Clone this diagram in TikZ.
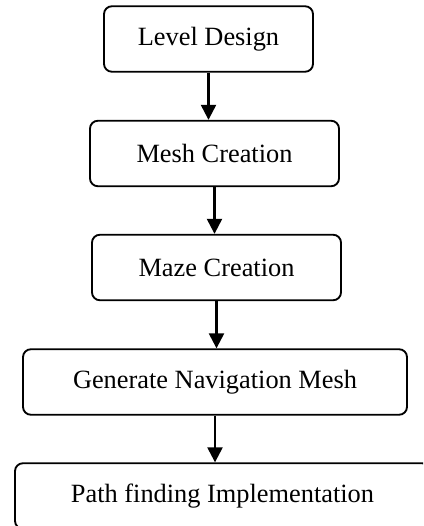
\documentclass[tikz,border=0pt]{standalone}
\usepackage{fontspec}
\setmainfont{Liberation Serif}
\usepackage{tikz}
\usetikzlibrary{positioning,arrows.meta,calc}

\begin{document}
\begin{tikzpicture}[
    font=\fontsize{15}{18}\selectfont,
    box/.style={draw,line width=1.05pt,rounded corners=4.5pt,align=center,minimum height=1.31cm,inner sep=0pt},
    arr/.style={-{Triangle[width=0.3cm,length=0.3cm]},line width=1.35pt}
  ]
    \useasboundingbox (0,0) rectangle (8.46,-10.52);
    \clip (0,0) rectangle (8.46,-10.52);

    \node[box,minimum width=4.18cm] (level) at (4.17,-0.78) {Level Design};
    \node[box,minimum width=4.98cm] (mesh) at (4.29,-3.07) {Mesh Creation};
    \node[box,minimum width=4.98cm] (maze) at (4.33,-5.35) {Maze Creation};
    \node[box,minimum width=7.68cm] (navmesh) at (4.30,-7.64) {Generate Navigation Mesh};
    \node[box,minimum width=8.30cm] (path) at (4.45,-9.92) {Path finding Implementation};

    \draw[arr] (level.south) -- (level.south |- mesh.north);
    \draw[arr] (mesh.south) -- (mesh.south |- maze.north);
    \draw[arr] (maze.south) -- (maze.south |- navmesh.north);
    \draw[arr] (navmesh.south) -- (navmesh.south |- path.north);
  \end{tikzpicture}
\end{document}
